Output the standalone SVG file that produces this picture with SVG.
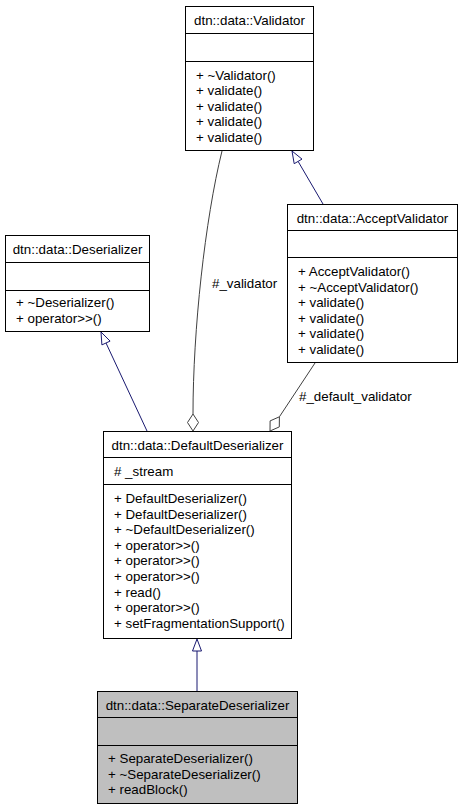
<svg xmlns="http://www.w3.org/2000/svg" width="461" height="811" viewBox="0 0 461 811">
<style>
text{font-family:"Liberation Sans",Arial,sans-serif;font-size:13.33px;fill:#000}
.t{text-anchor:middle}
.box{fill:#fff;stroke:#000;stroke-width:1}
.sel{fill:#bfbfbf;stroke:#000;stroke-width:1}
.sep{stroke:#000;stroke-width:1}
.inh{fill:none;stroke:#191970;stroke-width:1}
.inhh{fill:#fff;stroke:#191970;stroke-width:1}
.agg{fill:none;stroke:#404040;stroke-width:1}
.aggh{fill:#fff;stroke:#404040;stroke-width:1}
</style>
<rect width="461" height="811" fill="#fff"/>
<g id="connectors">
<path class="inh" d="M147,431 L106,343"/>
<polygon class="inhh" points="101,332 110.1,341.1 101.9,344.9"/>
<path class="inh" d="M323,204 L298.1,161.4"/>
<polygon class="inhh" points="292,151 302,159.1 294.2,163.7"/>
<path class="inh" d="M197,691 L197,651"/>
<polygon class="inhh" points="197,639 192.5,651 201.5,651"/>
<path class="agg" d="M222,151 C205,220 193,330 193,414"/>
<polygon class="aggh" points="193,431 198.5,422.5 193,414 187.5,422.5"/>
<text x="212" y="288">#_validator</text>
<path class="agg" d="M315,363 L279.4,416.8"/>
<polygon class="aggh" points="270,431 279.3,426.9 279.4,416.8 270.1,420.9"/>
<text x="299" y="401">#_default_validator</text>
</g>
<g id="Validator">
<rect class="box" x="185.5" y="6.5" width="128" height="144"/>
<line class="sep" x1="185.5" y1="33.5" x2="313.5" y2="33.5"/>
<line class="sep" x1="185.5" y1="61.5" x2="313.5" y2="61.5"/>
<text class="t" x="249.5" y="25">dtn::data::Validator</text>
<text x="196" y="79.5">+ ~Validator()</text>
<text x="196" y="95.1">+ validate()</text>
<text x="196" y="110.7">+ validate()</text>
<text x="196" y="126.3">+ validate()</text>
<text x="196" y="141.9">+ validate()</text>
</g>
<g id="Deserializer">
<rect class="box" x="5.5" y="235.5" width="144" height="96"/>
<line class="sep" x1="5.5" y1="262.5" x2="149.5" y2="262.5"/>
<line class="sep" x1="5.5" y1="290.5" x2="149.5" y2="290.5"/>
<text class="t" x="77.5" y="254">dtn::data::Deserializer</text>
<text x="16" y="307">+ ~Deserializer()</text>
<text x="16" y="322.6">+ operator&gt;&gt;()</text>
</g>
<g id="AcceptValidator">
<rect class="box" x="287.5" y="204.5" width="170" height="158"/>
<line class="sep" x1="287.5" y1="230.5" x2="457.5" y2="230.5"/>
<line class="sep" x1="287.5" y1="257.5" x2="457.5" y2="257.5"/>
<text class="t" x="372.5" y="223">dtn::data::AcceptValidator</text>
<text x="298" y="276">+ AcceptValidator()</text>
<text x="298" y="291.6">+ ~AcceptValidator()</text>
<text x="298" y="307.2">+ validate()</text>
<text x="298" y="322.8">+ validate()</text>
<text x="298" y="338.4">+ validate()</text>
<text x="298" y="354">+ validate()</text>
</g>
<g id="DefaultDeserializer">
<rect class="box" x="103.5" y="431.5" width="188" height="207"/>
<line class="sep" x1="103.5" y1="457.5" x2="291.5" y2="457.5"/>
<line class="sep" x1="103.5" y1="484.5" x2="291.5" y2="484.5"/>
<text class="t" x="197.5" y="450">dtn::data::DefaultDeserializer</text>
<text x="114" y="476">#  _stream</text>
<text x="114" y="503">+ DefaultDeserializer()</text>
<text x="114" y="518.6">+ DefaultDeserializer()</text>
<text x="114" y="534.2">+ ~DefaultDeserializer()</text>
<text x="114" y="549.8">+ operator&gt;&gt;()</text>
<text x="114" y="565.4">+ operator&gt;&gt;()</text>
<text x="114" y="581">+ operator&gt;&gt;()</text>
<text x="114" y="596.6">+ read()</text>
<text x="114" y="612.2">+ operator&gt;&gt;()</text>
<text x="114" y="627.8">+ setFragmentationSupport()</text>
</g>
<g id="SeparateDeserializer">
<rect class="sel" x="97.5" y="691.5" width="200" height="112"/>
<line class="sep" x1="97.5" y1="717.5" x2="297.5" y2="717.5"/>
<line class="sep" x1="97.5" y1="745.5" x2="297.5" y2="745.5"/>
<text class="t" x="197.5" y="710">dtn::data::SeparateDeserializer</text>
<text x="108" y="763">+ SeparateDeserializer()</text>
<text x="108" y="778.6">+ ~SeparateDeserializer()</text>
<text x="108" y="794.2">+ readBlock()</text>
</g>
</svg>
